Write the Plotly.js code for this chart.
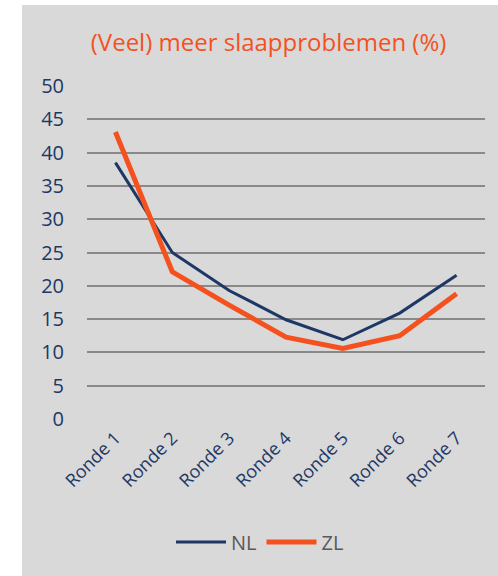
<!DOCTYPE html>
<html>
<head>
<meta charset="utf-8">
<script src="https://cdn.plot.ly/plotly-3.0.1.min.js"></script>
<style>
  html, body { margin:0; padding:0; background:#ffffff; width:498px; height:576px; overflow:hidden; }
  #chart { position:absolute; left:22px; top:5px; width:476px; height:571px; }
</style>
</head>
<body>
<div id="chart"></div>
<script>
const categories = ["Ronde 1","Ronde 2","Ronde 3","Ronde 4","Ronde 5","Ronde 6","Ronde 7"];
const nlValues = [38.5, 25.0, 19.3, 14.9, 11.9, 15.9, 21.6];
const zlValues = [43.1, 22.1, 17.1, 12.3, 10.6, 12.5, 18.8];
const yTicks = [0, 5, 10, 15, 20, 25, 30, 35, 40, 45, 50];

const traces = [
  { x: categories, y: nlValues, name: "NL", type: "scatter", mode: "lines",
    line: { color: "#1d3864", width: 3 } },
  { x: categories, y: zlValues, name: "ZL", type: "scatter", mode: "lines",
    line: { color: "#f4511e", width: 5 } }
];

const layout = {
  width: 476, height: 571,
  paper_bgcolor: "#d9d9d9", plot_bgcolor: "#d9d9d9",
  margin: { l: 65, r: 13, t: 81, b: 157 },
  font: { family: "Open Sans, sans-serif" },
  title: { text: "(Veel) meer slaapproblemen (%)", x: 0.518, xanchor: "center",
    y: 1 - 38/571, yanchor: "middle", yref: "container", xref: "container",
    font: { color: "#f4511e", size: 24, family: "Open Sans, sans-serif" } },
  xaxis: { type: "category", range: [-0.5, 6.5], tickangle: -45, showgrid: false, zeroline: false,
    showline: false, ticks: "", ticklabelstandoff: 4, tickfont: { size: 18, color: "#1d3864" },
    fixedrange: true },
  yaxis: { range: [0, 50], tickvals: yTicks, ticktext: yTicks.map(String),
    showgrid: true, gridcolor: "#898989", gridwidth: 2, zeroline: false,
    showline: false, ticks: "", ticklabelstandoff: 22,
    tickfont: { size: 20, color: "#1d3864" }, fixedrange: true },
  showlegend: true,
  legend: { orientation: "h", x: 0.5, xanchor: "center", xref: "container",
    y: 1 - 537/571, yanchor: "middle", yref: "container", itemwidth: 50,
    font: { size: 20, color: "#595959" }, bgcolor: "rgba(0,0,0,0)" },
};

Plotly.newPlot("chart", traces, layout, { displayModeBar: false, staticPlot: true });
</script>
</body>
</html>
